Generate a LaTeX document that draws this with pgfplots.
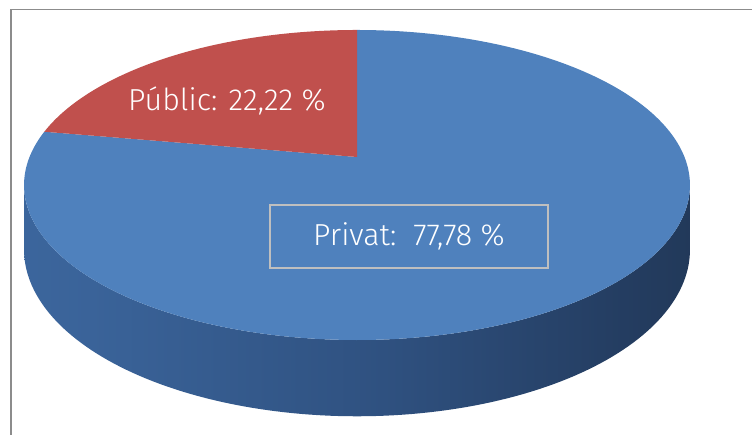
\documentclass[border=0pt]{standalone}
\usepackage{pgfplots}
\pgfplotsset{compat=1.18}
\usepackage{pgfplotstable}
\usepackage{fontspec}
\setmainfont{Fira Sans Light}
\definecolor{pieBlue}{HTML}{4F81BD}
\definecolor{pieRed}{HTML}{C0504D}
\definecolor{sA}{HTML}{4372AC}
\definecolor{sB}{HTML}{3A6399}
\definecolor{sC}{HTML}{2F5180}
\definecolor{sD}{HTML}{243D61}
\definecolor{sE}{HTML}{1F3450}
\definecolor{frameGray}{HTML}{8C8C8C}
\definecolor{boxGray}{HTML}{BFBFBF}
\pgfdeclarehorizontalshading{sideshade}{100bp}{color(0bp)=(sA); color(30bp)=(sB); color(52bp)=(sC); color(70bp)=(sD); color(82bp)=(sE); color(100bp)=(sE)}
\pgfplotstableread{
name value
Privat 77.78
Public 22.22
}\piedata
\pgfplotstablegetelem{1}{value}\of\piedata
\let\pub\pgfplotsretval
\pgfmathsetmacro\angA{90+3.6*\pub}
\pgfmathsetmacro\angB{450}
% perspective projection of the pie (screen pixels, y downwards)
\def\cx{357}
\def\cc{157}
\def\bb{-121.6}
\def\kk{0.1806}
\def\aa{327.5}
\def\DD{62.5}
\def\tA{190.4}
\def\tB{349.6}
\begin{document}
\begin{tikzpicture}
\begin{axis}[
  scale only axis, width=752bp, height=435bp,
  xmin=0, xmax=752, ymin=0, ymax=435, y dir=reverse,
  axis lines=none, clip=false,
  declare function={
    T(\s)=ifthenelse(\s<=1, \tA+\s*(\tB-\tA), \tB-(\s-1)*(\tB-\tA));
    Dp(\s)=ifthenelse(\s<=1, 0, \DD);
  },
]
% side wall
\addplot[draw=none, shading=sideshade, domain=0:2, samples=241, variable=\s]
  ({\cx + \aa*cos(T(\s))/(1+\kk*sin(T(\s)))},
   {(\cc + \bb*sin(T(\s)) + Dp(\s))/(1+\kk*sin(T(\s)))}) -- cycle;
% blue sector (Privat)
\addplot[fill=pieBlue, draw=none, domain=\angA:\angB, samples=200, variable=\t]
  ({\cx + \aa*cos(\t)/(1+\kk*sin(\t))}, {(\cc + \bb*sin(\t))/(1+\kk*sin(\t))})
  -- (axis cs:\cx,\cc) -- cycle;
% red sector (Public)
\addplot[fill=pieRed, draw=none, domain=90:\angA, samples=80, variable=\t]
  ({\cx + \aa*cos(\t)/(1+\kk*sin(\t))}, {(\cc + \bb*sin(\t))/(1+\kk*sin(\t))})
  -- (axis cs:\cx,\cc) -- cycle;
\node[text=white, font=\fontsize{30.5}{34}\selectfont] at (axis cs:227,101) {Públic: 22,22 \%};
\node[text=white, draw=boxGray, line width=1.5bp, minimum width=278bp, minimum height=63bp,
  inner sep=0pt, font=\fontsize{30.5}{34}\selectfont] at (axis cs:409,236.5) {Privat:\ \ 77,78 \%};
\draw[frameGray, line width=1.6bp] (axis cs:11,460) -- (axis cs:11,9.5) -- (axis cs:800,9.5);
\end{axis}
\pgfresetboundingbox
\useasboundingbox (current axis.south west) rectangle (current axis.north east);
\end{tikzpicture}
\end{document}
